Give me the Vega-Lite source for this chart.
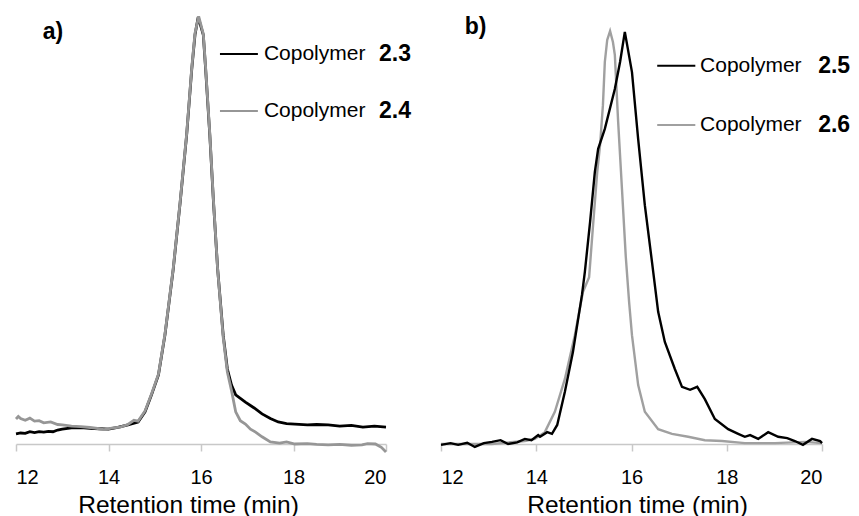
{
  "$schema": "https://vega.github.io/schema/vega-lite/v6.json",
  "padding": {"left": 10, "top": 10, "right": 0, "bottom": 0},
  "spacing": 55,
  "bounds": "flush",
  "resolve": {"scale": {"color": "independent"}},
  "config": {
    "view": {"stroke": null},
    "font": "Liberation Sans",
    "axis": {
      "domainColor": "#c8c8c8", "domainWidth": 1.5, "tickColor": "#c8c8c8", "tickSize": 7, "tickWidth": 1.5,
      "labelFontSize": 20, "labelColor": "#000000", "labelPadding": 16, "labelFont": "Liberation Sans",
      "titleFontSize": 24.5, "titleFontWeight": "normal", "titleColor": "#000000", "titlePadding": 6, "titleFont": "Liberation Sans",
      "grid": false
    }
  },
  "datasets": {
    "a_lines": [
      {"t":12.0,"v":2.4,"s":"2.3"},{"t":12.1,"v":2.6,"s":"2.3"},{"t":12.2,"v":2.5,"s":"2.3"},{"t":12.3,"v":2.9,"s":"2.3"},{"t":12.4,"v":2.7,"s":"2.3"},{"t":12.5,"v":2.9,"s":"2.3"},{"t":12.6,"v":2.8,"s":"2.3"},{"t":12.7,"v":3.0,"s":"2.3"},{"t":12.8,"v":2.9,"s":"2.3"},{"t":12.9,"v":3.3,"s":"2.3"},{"t":13.0,"v":3.5,"s":"2.3"},{"t":13.2,"v":3.8,"s":"2.3"},{"t":13.4,"v":3.9,"s":"2.3"},{"t":13.6,"v":3.7,"s":"2.3"},{"t":13.8,"v":3.6,"s":"2.3"},{"t":14.0,"v":3.5,"s":"2.3"},{"t":14.2,"v":3.9,"s":"2.3"},{"t":14.42,"v":4.5,"s":"2.3"},{"t":14.64,"v":5.2,"s":"2.3"},{"t":14.79,"v":7.6,"s":"2.3"},{"t":14.93,"v":11.6,"s":"2.3"},{"t":15.08,"v":16.3,"s":"2.3"},{"t":15.22,"v":25.7,"s":"2.3"},{"t":15.4,"v":41.3,"s":"2.3"},{"t":15.55,"v":57.1,"s":"2.3"},{"t":15.69,"v":73.0,"s":"2.3"},{"t":15.8,"v":88.5,"s":"2.3"},{"t":15.87,"v":96.6,"s":"2.3"},{"t":15.94,"v":100.8,"s":"2.3"},{"t":16.05,"v":96.6,"s":"2.3"},{"t":16.1,"v":88.5,"s":"2.3"},{"t":16.19,"v":73.0,"s":"2.3"},{"t":16.27,"v":57.1,"s":"2.3"},{"t":16.36,"v":41.3,"s":"2.3"},{"t":16.48,"v":25.7,"s":"2.3"},{"t":16.57,"v":17.7,"s":"2.3"},{"t":16.66,"v":13.9,"s":"2.3"},{"t":16.75,"v":11.6,"s":"2.3"},{"t":16.96,"v":9.9,"s":"2.3"},{"t":17.15,"v":8.5,"s":"2.3"},{"t":17.32,"v":7.1,"s":"2.3"},{"t":17.5,"v":6.0,"s":"2.3"},{"t":17.67,"v":5.2,"s":"2.3"},{"t":17.85,"v":4.8,"s":"2.3"},{"t":18.03,"v":4.7,"s":"2.3"},{"t":18.3,"v":4.5,"s":"2.3"},{"t":18.5,"v":4.6,"s":"2.3"},{"t":18.75,"v":4.5,"s":"2.3"},{"t":19.0,"v":4.2,"s":"2.3"},{"t":19.25,"v":4.4,"s":"2.3"},{"t":19.5,"v":4.0,"s":"2.3"},{"t":19.75,"v":4.2,"s":"2.3"},{"t":20.0,"v":4.0,"s":"2.3"},
      {"t":12.0,"v":5.9,"s":"2.4"},{"t":12.05,"v":6.5,"s":"2.4"},{"t":12.1,"v":6.0,"s":"2.4"},{"t":12.2,"v":5.6,"s":"2.4"},{"t":12.3,"v":6.1,"s":"2.4"},{"t":12.4,"v":5.4,"s":"2.4"},{"t":12.5,"v":5.5,"s":"2.4"},{"t":12.6,"v":5.0,"s":"2.4"},{"t":12.75,"v":5.2,"s":"2.4"},{"t":12.9,"v":4.6,"s":"2.4"},{"t":13.0,"v":4.5,"s":"2.4"},{"t":13.2,"v":4.2,"s":"2.4"},{"t":13.4,"v":4.1,"s":"2.4"},{"t":13.6,"v":3.9,"s":"2.4"},{"t":13.8,"v":3.6,"s":"2.4"},{"t":13.9,"v":3.4,"s":"2.4"},{"t":14.1,"v":3.8,"s":"2.4"},{"t":14.25,"v":4.0,"s":"2.4"},{"t":14.42,"v":4.6,"s":"2.4"},{"t":14.55,"v":5.6,"s":"2.4"},{"t":14.64,"v":5.4,"s":"2.4"},{"t":14.79,"v":7.8,"s":"2.4"},{"t":14.93,"v":11.8,"s":"2.4"},{"t":15.08,"v":16.5,"s":"2.4"},{"t":15.22,"v":25.9,"s":"2.4"},{"t":15.4,"v":41.5,"s":"2.4"},{"t":15.55,"v":57.3,"s":"2.4"},{"t":15.69,"v":73.2,"s":"2.4"},{"t":15.8,"v":88.8,"s":"2.4"},{"t":15.87,"v":97.0,"s":"2.4"},{"t":15.95,"v":101.0,"s":"2.4"},{"t":16.05,"v":96.8,"s":"2.4"},{"t":16.1,"v":88.9,"s":"2.4"},{"t":16.19,"v":73.3,"s":"2.4"},{"t":16.27,"v":57.4,"s":"2.4"},{"t":16.36,"v":41.2,"s":"2.4"},{"t":16.48,"v":25.2,"s":"2.4"},{"t":16.57,"v":17.0,"s":"2.4"},{"t":16.66,"v":12.6,"s":"2.4"},{"t":16.75,"v":7.6,"s":"2.4"},{"t":16.85,"v":5.5,"s":"2.4"},{"t":16.96,"v":4.7,"s":"2.4"},{"t":17.07,"v":3.5,"s":"2.4"},{"t":17.18,"v":2.8,"s":"2.4"},{"t":17.32,"v":1.7,"s":"2.4"},{"t":17.5,"v":0.5,"s":"2.4"},{"t":17.7,"v":0.2,"s":"2.4"},{"t":17.85,"v":0.5,"s":"2.4"},{"t":18.03,"v":0.0,"s":"2.4"},{"t":18.3,"v":0.1,"s":"2.4"},{"t":18.5,"v":-0.1,"s":"2.4"},{"t":18.75,"v":-0.2,"s":"2.4"},{"t":19.0,"v":-0.1,"s":"2.4"},{"t":19.25,"v":-0.3,"s":"2.4"},{"t":19.48,"v":-0.2,"s":"2.4"},{"t":19.6,"v":0.1,"s":"2.4"},{"t":19.77,"v":0.0,"s":"2.4"},{"t":19.9,"v":-0.8,"s":"2.4"},{"t":20.0,"v":-1.9,"s":"2.4"}
    ],
    "b_lines": [
      {"t":12.0,"v":0.0,"s":"2.6"},{"t":13.07,"v":0.0,"s":"2.6"},{"t":13.76,"v":0.7,"s":"2.6"},{"t":13.97,"v":1.2,"s":"2.6"},{"t":14.18,"v":2.8,"s":"2.6"},{"t":14.39,"v":7.6,"s":"2.6"},{"t":14.6,"v":15.3,"s":"2.6"},{"t":14.81,"v":25.7,"s":"2.6"},{"t":14.98,"v":35.9,"s":"2.6"},{"t":15.11,"v":39.4,"s":"2.6"},{"t":15.19,"v":51.2,"s":"2.6"},{"t":15.28,"v":64.2,"s":"2.6"},{"t":15.34,"v":70.6,"s":"2.6"},{"t":15.4,"v":80.0,"s":"2.6"},{"t":15.44,"v":90.2,"s":"2.6"},{"t":15.49,"v":95.4,"s":"2.6"},{"t":15.55,"v":97.5,"s":"2.6"},{"t":15.61,"v":94.9,"s":"2.6"},{"t":15.65,"v":91.9,"s":"2.6"},{"t":15.72,"v":76.0,"s":"2.6"},{"t":15.8,"v":60.2,"s":"2.6"},{"t":15.88,"v":44.2,"s":"2.6"},{"t":15.95,"v":33.5,"s":"2.6"},{"t":16.01,"v":25.7,"s":"2.6"},{"t":16.14,"v":13.9,"s":"2.6"},{"t":16.28,"v":7.6,"s":"2.6"},{"t":16.56,"v":3.5,"s":"2.6"},{"t":16.85,"v":2.4,"s":"2.6"},{"t":17.19,"v":1.7,"s":"2.6"},{"t":17.54,"v":0.9,"s":"2.6"},{"t":17.9,"v":0.7,"s":"2.6"},{"t":18.38,"v":0.2,"s":"2.6"},{"t":19.01,"v":0.2,"s":"2.6"},{"t":19.64,"v":0.5,"s":"2.6"},{"t":20.0,"v":0.2,"s":"2.6"},
      {"t":12.0,"v":-0.2,"s":"2.5"},{"t":12.2,"v":0.2,"s":"2.5"},{"t":12.36,"v":-0.2,"s":"2.5"},{"t":12.55,"v":0.3,"s":"2.5"},{"t":12.71,"v":-0.7,"s":"2.5"},{"t":12.9,"v":0.2,"s":"2.5"},{"t":13.07,"v":0.5,"s":"2.5"},{"t":13.25,"v":0.9,"s":"2.5"},{"t":13.41,"v":0.0,"s":"2.5"},{"t":13.6,"v":0.4,"s":"2.5"},{"t":13.76,"v":1.2,"s":"2.5"},{"t":13.9,"v":0.9,"s":"2.5"},{"t":14.04,"v":2.1,"s":"2.5"},{"t":14.08,"v":1.7,"s":"2.5"},{"t":14.23,"v":2.8,"s":"2.5"},{"t":14.33,"v":2.4,"s":"2.5"},{"t":14.44,"v":4.5,"s":"2.5"},{"t":14.6,"v":12.3,"s":"2.5"},{"t":14.77,"v":21.7,"s":"2.5"},{"t":14.96,"v":35.2,"s":"2.5"},{"t":15.02,"v":40.6,"s":"2.5"},{"t":15.13,"v":52.4,"s":"2.5"},{"t":15.23,"v":64.2,"s":"2.5"},{"t":15.3,"v":69.7,"s":"2.5"},{"t":15.44,"v":74.4,"s":"2.5"},{"t":15.65,"v":83.8,"s":"2.5"},{"t":15.76,"v":90.2,"s":"2.5"},{"t":15.86,"v":97.3,"s":"2.5"},{"t":16.01,"v":87.8,"s":"2.5"},{"t":16.14,"v":72.0,"s":"2.5"},{"t":16.28,"v":56.4,"s":"2.5"},{"t":16.43,"v":43.0,"s":"2.5"},{"t":16.56,"v":31.2,"s":"2.5"},{"t":16.7,"v":24.1,"s":"2.5"},{"t":16.91,"v":17.7,"s":"2.5"},{"t":17.06,"v":13.5,"s":"2.5"},{"t":17.23,"v":12.8,"s":"2.5"},{"t":17.38,"v":13.5,"s":"2.5"},{"t":17.54,"v":10.6,"s":"2.5"},{"t":17.75,"v":5.9,"s":"2.5"},{"t":18.03,"v":3.5,"s":"2.5"},{"t":18.24,"v":2.4,"s":"2.5"},{"t":18.38,"v":1.7,"s":"2.5"},{"t":18.49,"v":2.1,"s":"2.5"},{"t":18.66,"v":1.2,"s":"2.5"},{"t":18.87,"v":2.8,"s":"2.5"},{"t":19.08,"v":1.7,"s":"2.5"},{"t":19.27,"v":1.4,"s":"2.5"},{"t":19.43,"v":0.7,"s":"2.5"},{"t":19.6,"v":-0.2,"s":"2.5"},{"t":19.79,"v":1.2,"s":"2.5"},{"t":19.96,"v":0.7,"s":"2.5"},{"t":20.0,"v":0.2,"s":"2.5"}
    ],
    "a_legend": [
      {"s":"2.3","x1":16.41,"x2":17.23,"tx":17.36,"nx":19.85,"y":92.1,"name":"Copolymer"},
      {"s":"2.4","x1":16.41,"x2":17.23,"tx":17.36,"nx":19.85,"y":78.6,"name":"Copolymer"}
    ],
    "b_legend": [
      {"s":"2.5","x1":16.54,"x2":17.34,"tx":17.44,"nx":19.92,"y":89.3,"name":"Copolymer"},
      {"s":"2.6","x1":16.54,"x2":17.34,"tx":17.44,"nx":19.92,"y":75.3,"name":"Copolymer"}
    ],
    "a_label": [{"label":"a)","x":12.58,"y":95.6}],
    "b_label": [{"label":"b)","x":12.5,"y":96.8}]
  },
  "hconcat": [
    {
      "width": 370,
      "height": 432,
      "layer": [
        {
          "data": {"name": "a_lines"},
          "mark": {"type": "line", "strokeWidth": 2.8, "clip": false},
          "encoding": {
            "x": {"field": "t", "type": "quantitative", "scale": {"domain": [12, 20], "nice": false}, "axis": {"values": [12, 14, 16, 18, 20], "title": "Retention time (min)", "titleX": 172}},
            "y": {"field": "v", "type": "quantitative", "scale": {"domain": [0, 102], "nice": false}, "axis": null},
            "color": {"field": "s", "type": "nominal", "scale": {"domain": ["2.3", "2.4"], "range": ["#000000", "#969696"]}, "legend": null},
            "order": {"field": "t"}
          }
        },
        {
          "data": {"name": "a_legend"},
          "mark": {"type": "rule", "strokeWidth": 2},
          "encoding": {
            "x": {"field": "x1", "type": "quantitative"},
            "x2": {"field": "x2"},
            "y": {"field": "y", "type": "quantitative"},
            "color": {"field": "s", "type": "nominal", "legend": null}
          }
        },
        {
          "data": {"name": "a_legend"},
          "mark": {"type": "text", "align": "left", "baseline": "middle", "fontSize": 21, "color": "#000000"},
          "encoding": {
            "x": {"field": "tx", "type": "quantitative"},
            "y": {"field": "y", "type": "quantitative"},
            "text": {"field": "name"}
          }
        },
        {
          "data": {"name": "a_legend"},
          "mark": {"type": "text", "align": "left", "baseline": "middle", "fontSize": 23, "fontWeight": "bold", "color": "#000000"},
          "encoding": {
            "x": {"field": "nx", "type": "quantitative"},
            "y": {"field": "y", "type": "quantitative"},
            "text": {"field": "s"}
          }
        },
        {
          "data": {"name": "a_label"},
          "mark": {"type": "text", "align": "left", "baseline": "alphabetic", "fontSize": 23, "fontWeight": "bold", "color": "#000000"},
          "encoding": {
            "x": {"field": "x", "type": "quantitative"},
            "y": {"field": "y", "type": "quantitative"},
            "text": {"field": "label"}
          }
        }
      ]
    },
    {
      "width": 381,
      "height": 432,
      "layer": [
        {
          "data": {"name": "b_lines"},
          "mark": {"type": "line", "strokeWidth": 2.4, "clip": false},
          "encoding": {
            "x": {"field": "t", "type": "quantitative", "scale": {"domain": [12, 20], "nice": false}, "axis": {"values": [12, 14, 16, 18, 20], "title": "Retention time (min)", "titleX": 196}},
            "y": {"field": "v", "type": "quantitative", "scale": {"domain": [0, 102], "nice": false}, "axis": null},
            "color": {"field": "s", "type": "nominal", "scale": {"domain": ["2.5", "2.6"], "range": ["#000000", "#a0a0a0"]}, "legend": null},
            "order": {"field": "t"}
          }
        },
        {
          "data": {"name": "b_legend"},
          "mark": {"type": "rule", "strokeWidth": 2},
          "encoding": {
            "x": {"field": "x1", "type": "quantitative"},
            "x2": {"field": "x2"},
            "y": {"field": "y", "type": "quantitative"},
            "color": {"field": "s", "type": "nominal", "legend": null}
          }
        },
        {
          "data": {"name": "b_legend"},
          "mark": {"type": "text", "align": "left", "baseline": "middle", "fontSize": 21, "color": "#000000"},
          "encoding": {
            "x": {"field": "tx", "type": "quantitative"},
            "y": {"field": "y", "type": "quantitative"},
            "text": {"field": "name"}
          }
        },
        {
          "data": {"name": "b_legend"},
          "mark": {"type": "text", "align": "left", "baseline": "middle", "fontSize": 23, "fontWeight": "bold", "color": "#000000"},
          "encoding": {
            "x": {"field": "nx", "type": "quantitative"},
            "y": {"field": "y", "type": "quantitative"},
            "text": {"field": "s"}
          }
        },
        {
          "data": {"name": "b_label"},
          "mark": {"type": "text", "align": "left", "baseline": "alphabetic", "fontSize": 23, "fontWeight": "bold", "color": "#000000"},
          "encoding": {
            "x": {"field": "x", "type": "quantitative"},
            "y": {"field": "y", "type": "quantitative"},
            "text": {"field": "label"}
          }
        }
      ]
    }
  ]
}
